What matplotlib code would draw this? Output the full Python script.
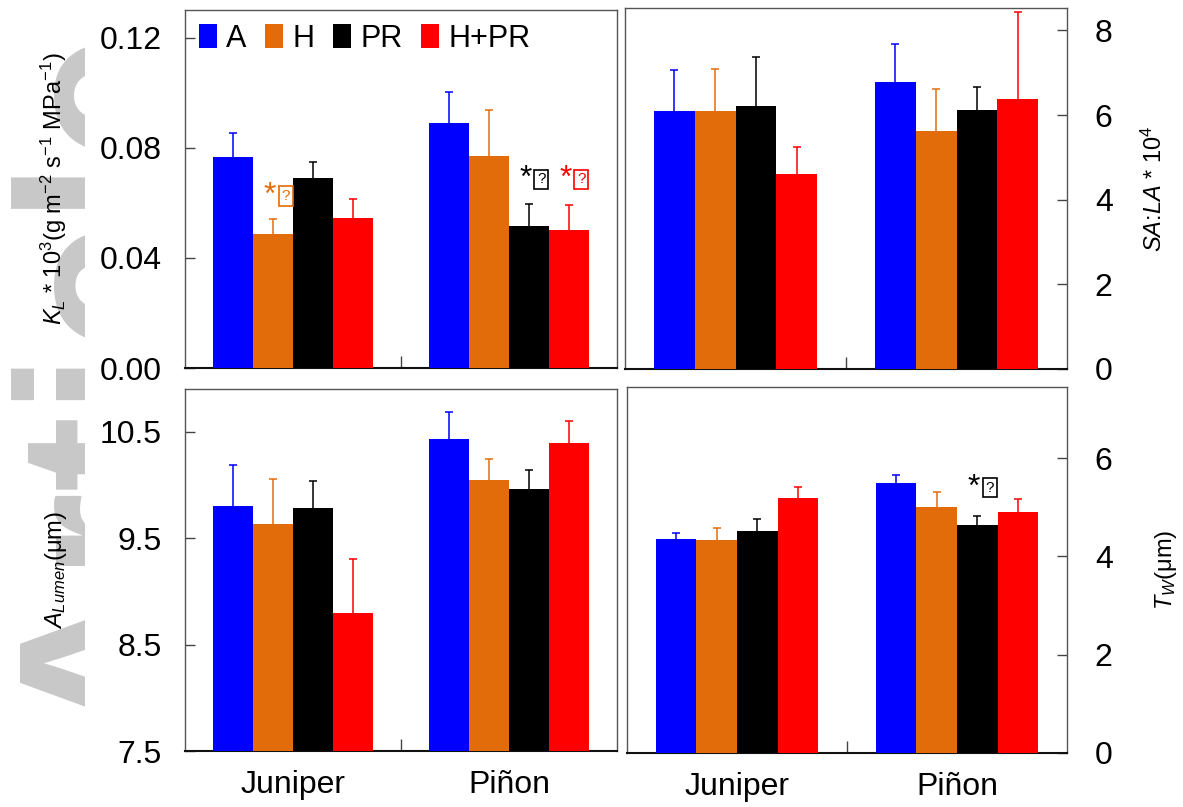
import matplotlib
matplotlib.use('Agg')
import matplotlib.pyplot as plt
import numpy as np
from matplotlib.patches import Patch, Rectangle

plt.rcParams['font.family'] = ['Liberation Sans', 'DejaVu Sans']
plt.rcParams['mathtext.fontset'] = 'custom'
plt.rcParams['mathtext.rm'] = 'Liberation Sans'
plt.rcParams['mathtext.it'] = 'Liberation Sans:italic'
plt.rcParams['mathtext.bf'] = 'Liberation Sans:bold'

# ---------------- data ----------------
species = ['Juniper', 'Piñon']
treatments = ['A', 'H', 'PR', 'H+PR']
colors = ['#0000FF', '#E36C0A', '#000000', '#FF0000']

# K_L * 10^3 (rows: A, H, PR, H+PR ; cols: Juniper, Piñon)
kl_mean = [[0.0765, 0.0888], [0.0487, 0.0770], [0.0691, 0.0515], [0.0546, 0.0502]]
kl_err = [[0.0089, 0.0113], [0.0054, 0.0168], [0.0056, 0.0082], [0.0068, 0.0089]]

# SA:LA * 10^4
sala_mean = [[6.09, 6.78], [6.09, 5.63], [6.22, 6.13], [4.61, 6.39]]
sala_err = [[0.98, 0.90], [1.01, 0.98], [1.15, 0.53], [0.63, 2.04]]

# A_Lumen (um)
alum_mean = [[9.80, 10.43], [9.635, 10.05], [9.786, 9.96], [8.796, 10.39]]
alum_err = [[0.39, 0.25], [0.42, 0.19], [0.25, 0.18], [0.51, 0.21]]

# T_W (um)
tw_mean = [[4.36, 5.49], [4.34, 5.01], [4.52, 4.65], [5.20, 4.91]]
tw_err = [[0.11, 0.16], [0.25, 0.31], [0.25, 0.17], [0.21, 0.27]]

# significance marks: (species index, treatment index, y)
kl_marks = [(0, 1, 0.0625), (1, 2, 0.0685), (1, 3, 0.0685)]
tw_marks = [(1, 2, 5.40)]

# ---------------- figure ----------------
W, H = 1183, 807
fig = plt.figure(figsize=(W / 100, H / 100), dpi=100)

# watermark (drawn first, behind everything), cut off at x = 85 px
fig.text(172 / W, 1 - 740 / H, 'Article', rotation=90, rotation_mode='anchor',
         ha='left', va='baseline', fontsize=165, fontweight='bold',
         color='#c8c8c8', zorder=-5)
fig.add_artist(Rectangle((85 / W, 0), 110 / W, 1, transform=fig.transFigure,
                         facecolor='white', edgecolor='none', zorder=-4))


def rect(l, r, t, b):
    return [l / W, 1 - b / H, (r - l) / W, (b - t) / H]


ax_kl = fig.add_axes(rect(185, 617, 10, 368))
ax_sa = fig.add_axes(rect(625, 1067, 8, 369))
ax_al = fig.add_axes(rect(185, 617, 389, 751))
ax_tw = fig.add_axes(rect(627, 1067, 387, 753))

x = np.arange(len(species))
bw = 0.185
offsets = (np.arange(len(treatments)) - 1.5) * bw


def draw(ax, mean, err, ylim, yticks, ticklabels, right=False, bottom_labels=False):
    for i, t in enumerate(treatments):
        xs = x + offsets[i]
        ax.bar(xs, mean[i], width=bw, color=colors[i], zorder=3, linewidth=0)
        ax.errorbar(xs, mean[i], yerr=err[i], fmt='none', ecolor=colors[i],
                    elinewidth=1.1, capsize=3, capthick=1.1, zorder=4)
    ax.set_xlim(-0.5, 1.5)
    ax.set_ylim(*ylim)
    ax.set_yticks(yticks)
    ax.set_yticklabels(ticklabels)
    if right:
        ax.yaxis.tick_right()
        ax.tick_params(axis='y', direction='in', length=7, width=1, color='#444444',
                       labelsize=23, pad=20, left=False, right=True,
                       labelleft=False, labelright=True)
    else:
        ax.tick_params(axis='y', direction='in', length=7, width=1, color='#444444',
                       labelsize=23, pad=17)
    ax.set_xticks(x)
    if bottom_labels:
        ax.set_xticklabels(species, fontsize=23)
    else:
        ax.set_xticklabels([])
    ax.tick_params(axis='x', which='major', length=0, pad=14)
    ax.set_xticks([0.5], minor=True)
    ax.tick_params(axis='x', which='minor', direction='in', length=9, width=1,
                   color='#444444', bottom=True)
    for s in ['top', 'left', 'right']:
        ax.spines[s].set_color('#555555')
        ax.spines[s].set_linewidth(1.0)
    ax.spines['bottom'].set_color('#111111')
    ax.spines['bottom'].set_linewidth(1.5)


draw(ax_kl, kl_mean, kl_err, (0, 0.13), [0, 0.04, 0.08, 0.12],
     ['0.00', '0.04', '0.08', '0.12'])
draw(ax_sa, sala_mean, sala_err, (0, 8.53), [0, 2, 4, 6, 8],
     ['0', '2', '4', '6', '8'], right=True)
draw(ax_al, alum_mean, alum_err, (7.5, 10.9), [7.5, 8.5, 9.5, 10.5],
     ['7.5', '8.5', '9.5', '10.5'], bottom_labels=True)
draw(ax_tw, tw_mean, tw_err, (0, 7.45), [0, 2, 4, 6],
     ['0', '2', '4', '6'], right=True, bottom_labels=True)

# y labels
ax_kl.set_ylabel(r'$K_L$ * 10$^3$(g m$^{-2}$ s$^{-1}$ MPa$^{-1}$)', fontsize=17, labelpad=22)
ax_al.set_ylabel(r'$A_{Lumen}$(μm)', fontsize=17, labelpad=22)
ax_sa.yaxis.set_label_position('right')
ax_sa.set_ylabel(r'$SA$:$LA$ * 10$^4$', fontsize=17, labelpad=21, rotation=90)
ax_tw.yaxis.set_label_position('right')
ax_tw.set_ylabel(r'$T_W$(μm)', fontsize=17, labelpad=29, rotation=90)


def mark(ax, si, ti, y, color):
    xc = x[si] + offsets[ti]
    ax.annotate('*', xy=(xc, y), xytext=(2, 0), textcoords='offset points',
                ha='right', va='center', fontsize=23, color=color, zorder=6)
    ax.annotate('?', xy=(xc, y), xytext=(9, 0), textcoords='offset points',
                ha='center', va='center', fontsize=11, color=color, zorder=6,
                bbox=dict(boxstyle='square,pad=0.18', fc='white', ec=color, lw=1.2))


for si, ti, y in kl_marks:
    mark(ax_kl, si, ti, y, colors[ti])
for si, ti, y in tw_marks:
    mark(ax_tw, si, ti, y, colors[ti])

# legend
handles = [Patch(facecolor=c, edgecolor='none') for c in colors]
ax_kl.legend(handles, treatments, loc='upper left', bbox_to_anchor=(0.0, 1.0),
             ncol=4, frameon=False, fontsize=22, handlelength=0.6, handleheight=0.8,
             handletextpad=0.3, columnspacing=0.6, borderaxespad=0.25, borderpad=0.2)

fig.savefig('out.png', dpi=100)
